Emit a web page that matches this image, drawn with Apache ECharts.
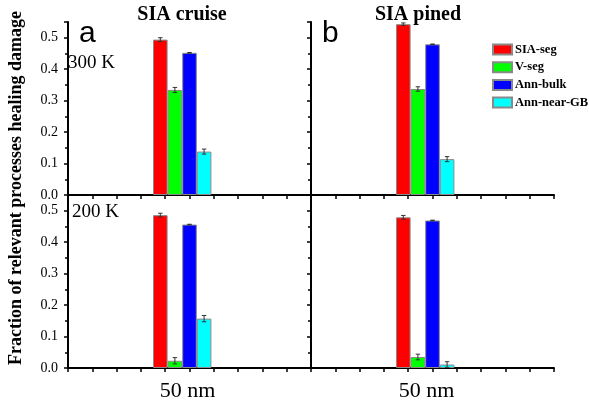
<!DOCTYPE html>
<html>
<head>
<meta charset="utf-8">
<script src="https://cdn.jsdelivr.net/npm/echarts@6/dist/echarts.min.js"></script>
<style>
html,body{margin:0;padding:0;background:#fff;}
#chart{width:589px;height:406px;}
</style>
</head>
<body>
<div id="chart"></div>
<script>
// ---- data ----
var categories = ['50 nm'];
var seriesNames = ['SIA-seg', 'V-seg', 'Ann-bulk', 'Ann-near-GB'];
var seriesColors = ['#ff0000', '#00ff00', '#0000ff', '#00ffff'];

var cruise300 = [0.494, 0.334, 0.452, 0.138];
var cruise300Err = [0.006, 0.008, 0.001, 0.008];
var pined300 = [0.543, 0.337, 0.479, 0.114];
var pined300Err = [0.004, 0.007, 0.001, 0.008];
var cruise200 = [0.486, 0.023, 0.456, 0.157];
var cruise200Err = [0.006, 0.010, 0.001, 0.010];
var pined200 = [0.479, 0.035, 0.469, 0.011];
var pined200Err = [0.006, 0.009, 0.001, 0.009];

var yMin = 0, yMax = 0.55, yInterval = 0.1;
var xTickMin = 0, xTickMax = 10, xTickInterval = 1;

var panelTitles = ['SIA cruise', 'SIA pined'];
var panelLetters = ['a', 'b'];
var tempLabels = ['300 K', '200 K'];
var yTitle = 'Fraction of relevant processes healing damage';

// ---- layout ----
var SERIF = '"Liberation Serif","Times New Roman",serif';
var SANS = '"Liberation Sans",Arial,sans-serif';
var BAR_W = 14.6;
var grids = [
  {left: 68, top: 22, width: 243, height: 173},
  {left: 311, top: 22, width: 243, height: 173},
  {left: 68, top: 195, width: 243, height: 173},
  {left: 311, top: 195, width: 243, height: 173}
];
var panels = [
  {vals: cruise300, errs: cruise300Err},
  {vals: pined300, errs: pined300Err},
  {vals: cruise200, errs: cruise200Err},
  {vals: pined200, errs: pined200Err}
];

var xAxes = [], yAxes = [], series = [];
grids.forEach(function (g, gi) {
  var isBottom = gi >= 2, isLeft = gi % 2 === 0;
  // category axis (bars)
  xAxes.push({
    type: 'category', gridIndex: gi, data: categories, position: 'bottom',
    axisLine: {show: false}, axisTick: {show: false}, splitLine: {show: false},
    axisLabel: {show: isBottom, color: '#000', fontFamily: SERIF, fontSize: 22, margin: 12,
      padding: isLeft ? [0, 4, 0, 0] : [0, 12, 0, 0]}
  });
  // value axis (ticks)
  xAxes.push({
    type: 'value', gridIndex: gi, min: xTickMin, max: xTickMax, interval: xTickInterval, position: 'bottom',
    axisLine: {show: true, lineStyle: {color: '#000', width: 2}},
    axisTick: {show: true, length: 4, lineStyle: {color: '#000', width: 1.5}},
    axisLabel: {show: false}, splitLine: {show: false}
  });
  yAxes.push({
    type: 'value', gridIndex: gi, min: yMin, max: yMax, interval: yInterval,
    axisLine: {show: true, lineStyle: {color: '#000', width: 2}},
    axisTick: {show: true, length: 4, lineStyle: {color: '#000', width: 1.5}},
    minorTick: {show: true, splitNumber: 2, length: 3, lineStyle: {color: '#000', width: 1.5}},
    splitLine: {show: false},
    axisLabel: {show: isLeft, showMaxLabel: false, color: '#000', fontFamily: SERIF, fontSize: 14, margin: 10,
      formatter: function (v) { return v.toFixed(1); }}
  });
  var p = panels[gi];
  seriesNames.forEach(function (name, si) {
    series.push({
      type: 'bar', name: name, xAxisIndex: gi * 2, yAxisIndex: gi,
      data: [p.vals[si]], barWidth: BAR_W, barGap: '0%',
      itemStyle: {color: seriesColors[si], borderColor: '#8a8a8a', borderWidth: 1}
    });
  });
  // spacer slot (empty) keeps the group offset as in the original
  series.push({
    type: 'bar', name: 'spacer', xAxisIndex: gi * 2, yAxisIndex: gi,
    data: ['-'], barWidth: BAR_W, barGap: '0%'
  });
  // error bars
  var errData = seriesNames.map(function (n, si) {
    return [0, p.vals[si] - p.errs[si], p.vals[si] + p.errs[si], si];
  });
  series.push({
    type: 'custom', xAxisIndex: gi * 2, yAxisIndex: gi, z: 10, silent: true,
    data: errData,
    renderItem: function (params, api) {
      var lo = api.coord([api.value(0), api.value(1)]);
      var hi = api.coord([api.value(0), api.value(2)]);
      var x = lo[0] + (api.value(3) - 2) * BAR_W;
      var cap = 2.2;
      var st = {stroke: '#333', lineWidth: 1, fill: null};
      return {type: 'group', children: [
        {type: 'line', shape: {x1: x, y1: lo[1], x2: x, y2: hi[1]}, style: st},
        {type: 'line', shape: {x1: x - cap, y1: lo[1], x2: x + cap, y2: lo[1]}, style: st},
        {type: 'line', shape: {x1: x - cap, y1: hi[1], x2: x + cap, y2: hi[1]}, style: st}
      ]};
    }
  });
});

var graphics = [
  {type: 'text', x: 182, y: 15, style: {text: panelTitles[0], font: 'bold 20px ' + SERIF, fill: '#000', textAlign: 'center', textVerticalAlign: 'middle'}},
  {type: 'text', x: 418, y: 15, style: {text: panelTitles[1], font: 'bold 20px ' + SERIF, fill: '#000', textAlign: 'center', textVerticalAlign: 'middle'}},
  {type: 'text', x: 79, y: 34, style: {text: panelLetters[0], font: '30px ' + SANS, fill: '#000', textAlign: 'left', textVerticalAlign: 'middle'}},
  {type: 'text', x: 322, y: 34, style: {text: panelLetters[1], font: '30px ' + SANS, fill: '#000', textAlign: 'left', textVerticalAlign: 'middle'}},
  {type: 'text', x: 68, y: 63, style: {text: tempLabels[0], font: '19px ' + SERIF, fill: '#000', textAlign: 'left', textVerticalAlign: 'middle'}},
  {type: 'text', x: 72, y: 212, style: {text: tempLabels[1], font: '19px ' + SERIF, fill: '#000', textAlign: 'left', textVerticalAlign: 'middle'}},
  {type: 'text', x: 16, y: 188, rotation: Math.PI / 2, style: {text: yTitle, font: 'bold 18px ' + SERIF, fill: '#000', textAlign: 'center', textVerticalAlign: 'middle'}}
];

var chart = echarts.init(document.getElementById('chart'), null, {renderer: 'canvas'});
chart.setOption({
  animation: false,
  backgroundColor: '#fff',
  grid: grids,
  xAxis: xAxes,
  yAxis: yAxes,
  legend: {
    data: seriesNames, orient: 'vertical', left: 492, top: 43,
    itemWidth: 19, itemHeight: 10, itemGap: 4.7, icon: 'rect', padding: 0,
    textStyle: {fontFamily: SERIF, fontWeight: 'bold', fontSize: 12.5, color: '#000', padding: [0, 0, 0, -2]},
    selectedMode: false
  },
  graphic: graphics,
  series: series
});
</script>
</body>
</html>
